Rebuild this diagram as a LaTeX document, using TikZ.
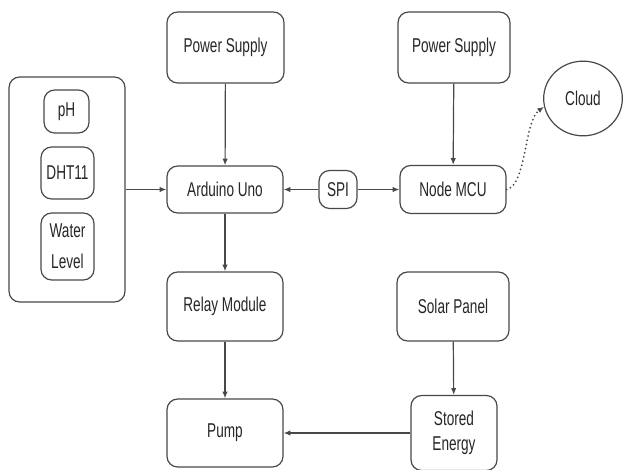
\documentclass[tikz,border=0pt]{standalone}
\usepackage{fontspec}
\setmainfont[FakeStretch=0.68]{Liberation Sans}
\usepackage{xcolor}
\usetikzlibrary{arrows.meta,shapes.geometric}
\definecolor{linegray}{HTML}{484848}

\begin{document}
\begin{tikzpicture}[
    x=0.75pt, y=-0.75pt,
    box/.style={rectangle, rounded corners=8pt, draw=linegray, line width=0.9pt, align=center, inner sep=1pt, text=black!85, font=\fontsize{15}{19}\selectfont},
    arrow/.style={-{Latex[length=5pt,width=4pt]}, draw=linegray, line width=0.9pt}
]
\useasboundingbox (0,0) rectangle (624,470);

% sensors
\node[box, minimum width=87pt, minimum height=168.75pt] (sensors) at (67,189.5) {};
\node[box, minimum width=33.75pt, minimum height=32.25pt] (ph) at (66.5,111.5) {pH};
\node[box, minimum width=39.75pt, minimum height=39pt] (dht) at (67.5,173) {DHT11};
\node[box, minimum width=39.75pt, minimum height=50.25pt, font=\fontsize{15}{23}\selectfont] (water) at (67.5,246.5) {Water\\Level};

% controller side
\node[box, minimum width=87.75pt, minimum height=53.25pt] (supplyA) at (225.5,47.5) {Power Supply};
\node[box, minimum width=87pt, minimum height=35.25pt] (arduino) at (225,189.5) {Arduino Uno};
\node[box, minimum width=87pt, minimum height=51.75pt] (relay) at (225,306.5) {Relay Module};
\node[box, minimum width=87pt, minimum height=51pt] (pump) at (225,433) {Pump};
\node[box, minimum width=28.5pt, minimum height=28.5pt] (spi) at (338,189.5) {SPI};

% wifi side
\node[box, minimum width=84pt, minimum height=53.25pt] (supplyB) at (454,47.5) {Power Supply};
\node[box, minimum width=79.5pt, minimum height=36pt] (mcu) at (453,189.5) {Node MCU};
\node[ellipse, draw=linegray, line width=0.9pt, inner sep=0pt, minimum width=59pt, minimum height=56pt, text=black!85, font=\fontsize{15}{19}\selectfont] (cloud) at (583,98.5) {Cloud};
\node[box, minimum width=84pt, minimum height=51.75pt] (solar) at (453,306.5) {Solar Panel};
\node[box, minimum width=64.5pt, minimum height=56.25pt] (stored) at (454,433) {Stored\\Energy};

\draw[arrow] (supplyA) -- (arduino);
\draw[arrow] (supplyB) -- (mcu);
\draw[arrow] (sensors) -- (arduino);
\draw[arrow] (spi) -- (arduino);
\draw[arrow] (spi) -- (mcu);
\draw[arrow] (arduino) -- (relay);
\draw[arrow] (relay) -- (pump);
\draw[arrow] (solar) -- (stored);
\draw[arrow] (stored) -- (pump);
\draw[arrow, line width=1.5pt, line cap=round, dash pattern=on 0pt off 3.2pt] (mcu.east) .. controls +(20,-4) and +(-20,14) .. (cloud.192);

\end{tikzpicture}
\end{document}
